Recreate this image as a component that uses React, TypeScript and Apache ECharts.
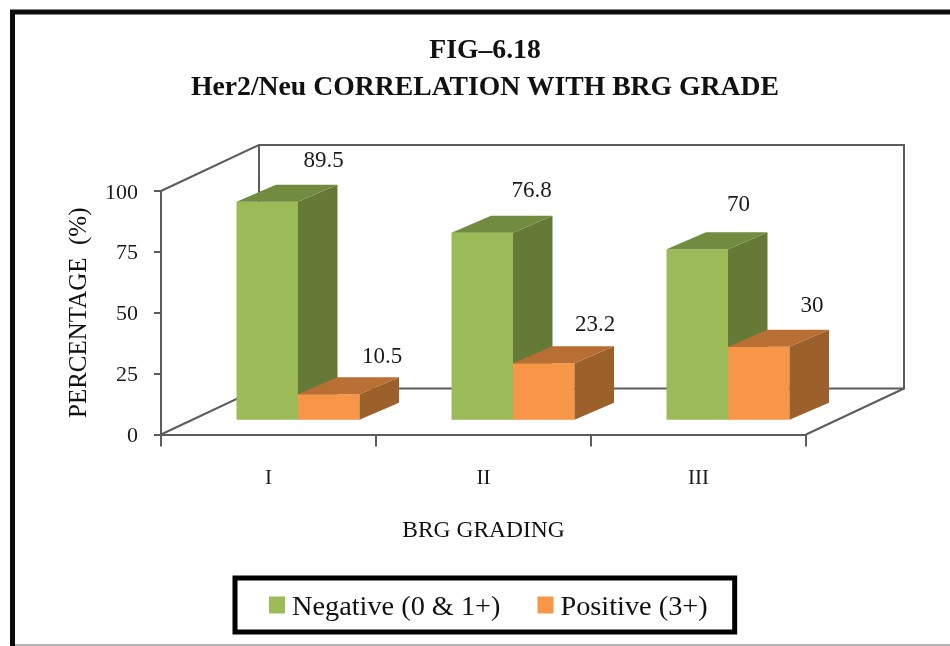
import React, { useEffect, useRef } from "react";
import * as echarts from "echarts";

const FONT = '"Liberation Serif", serif';

const categories = ["I", "II", "III"];
const negativeValues = [89.5, 76.8, 70];
const positiveValues = [10.5, 23.2, 30];
const yTicks = { min: 0, max: 100, interval: 25 };
const titleLines = ["FIG–6.18", "Her2/Neu CORRELATION WITH BRG GRADE"];
const yAxisTitle = "PERCENTAGE  (%)";
const xAxisTitle = "BRG GRADING";
const negativeName = "Negative (0 & 1+)";
const positiveName = "Positive (3+)";

const GREEN = { front: "#9BBB59", side: "#667A37", top: "#718C41" };
const ORANGE = { front: "#F79646", side: "#9C602B", top: "#B96F33" };
const AXIS = "#5c5c5c";

// 3D look
const WALL_DX = 98;
const WALL_DY = -46;
const BASE_DX = 29.5;
const BASE_DY = -14.8;
const DEPTH_DX = 39.5;
const DEPTH_DY = -17;
const BAR_FRACTION = 0.286;
const LABEL_DX = 85;
const LABEL_DY = -24;
const negLabelNudge = [[2, -1], [-5, -2], [-13, -5]];
const posLabelNudge = [[-1, 2], [-3, 1], [-1, -1]];

function bars(colors: typeof GREEN, isLeft: boolean, nudges: number[][]) {
  return (params: any, api: any) => {
    const cat = api.value(0);
    const val = api.value(1);
    const base = api.coord([cat, 0]);
    const top = api.coord([cat, val]);
    const w = api.size([1, 0])[0] * BAR_FRACTION;
    const x0 = base[0] + BASE_DX - (isLeft ? w : 0);
    const x1 = x0 + w;
    const y0 = base[1] + BASE_DY;
    const y1 = top[1] + BASE_DY;
    const poly = (points: number[][], fill: string) => ({
      type: "polygon",
      shape: { points },
      style: { fill, stroke: null },
      silent: true,
    });
    const n = nudges[params.dataIndex];
    return {
      type: "group",
      children: [
        poly([[x0, y1], [x1, y1], [x1, y0], [x0, y0]], colors.front),
        poly([[x1, y1], [x1 + DEPTH_DX, y1 + DEPTH_DY], [x1 + DEPTH_DX, y0 + DEPTH_DY], [x1, y0]], colors.side),
        poly([[x0, y1], [x0 + DEPTH_DX, y1 + DEPTH_DY], [x1 + DEPTH_DX, y1 + DEPTH_DY], [x1, y1]], colors.top),
        {
          type: "text",
          style: {
            text: String(val),
            x: x0 + LABEL_DX + n[0],
            y: y1 + DEPTH_DY + LABEL_DY + n[1],
            textAlign: "center",
            textVerticalAlign: "middle",
            font: `23px ${FONT}`,
            fill: "#1a1a1a",
          },
        },
      ],
    };
  };
}

function frame(_params: any, api: any) {
  const o = api.coord([0, 0]);
  const t = api.coord([0, 100]);
  const band = api.size([1, 0])[0];
  const left = o[0] - band / 2;
  const right = left + band * categories.length;
  const bottom = o[1];
  const top = t[1];
  const line = (points: number[][], width = 2) => ({
    type: "polyline",
    shape: { points },
    style: { stroke: AXIS, lineWidth: width, fill: null },
    silent: true,
  });
  return {
    type: "group",
    children: [
      line([[left, top], [left + WALL_DX, top + WALL_DY], [right + WALL_DX, top + WALL_DY], [right + WALL_DX, bottom + WALL_DY], [left + WALL_DX, bottom + WALL_DY], [left, bottom]]),
      line([[left + WALL_DX, top + WALL_DY], [left + WALL_DX, bottom + WALL_DY]]),
      line([[right + WALL_DX, bottom + WALL_DY], [right, bottom]]),
    ],
  };
}

export default function App() {
  const ref = useRef<HTMLDivElement>(null);
  useEffect(() => {
    const chart = echarts.init(ref.current!, null, { renderer: "svg" });
    chart.setOption({
      animation: false,
      backgroundColor: "#ffffff",
      title: {
        text: titleLines.join("\n"),
        left: 480,
        top: 25,
        textAlign: "center",
        textStyle: { fontFamily: FONT, fontSize: 27.7, fontWeight: "bold", color: "#111", lineHeight: 37 },
      },
      grid: { left: 161, top: 191, width: 645, height: 243.5 },
      xAxis: {
        type: "category",
        data: categories,
        name: xAxisTitle,
        nameLocation: "middle",
        nameGap: 82,
        nameTextStyle: { fontFamily: FONT, fontSize: 23.5, color: "#111" },
        axisLine: { lineStyle: { color: AXIS, width: 2 } },
        axisTick: { show: true, alignWithLabel: false, length: 12, lineStyle: { color: AXIS, width: 2 } },
        axisLabel: { margin: 32, fontFamily: FONT, fontSize: 21, color: "#1a1a1a" },
      },
      yAxis: {
        type: "value",
        min: yTicks.min,
        max: yTicks.max,
        interval: yTicks.interval,
        name: yAxisTitle,
        nameLocation: "middle",
        nameRotate: 90,
        nameGap: 71,
        nameTextStyle: { fontFamily: FONT, fontSize: 25, color: "#111" },
        splitLine: { show: false },
        axisLine: { show: true, lineStyle: { color: AXIS, width: 2 } },
        axisTick: { show: true, length: 7, lineStyle: { color: AXIS, width: 2 } },
        axisLabel: { margin: 23, fontFamily: FONT, fontSize: 22, color: "#1a1a1a" },
      },
      legend: {
        left: 235,
        top: 578,
        orient: "horizontal",
        icon: "rect",
        itemWidth: 16,
        itemHeight: 17,
        itemGap: 37,
        padding: [13, 27, 13, 34],
        borderColor: "#000",
        borderWidth: 5,
        data: [negativeName, positiveName],
        textStyle: { fontFamily: FONT, fontSize: 28.3, color: "#111", padding: [0, 0, 0, 2] },
      },
      graphic: [
        {
          type: "polyline",
          shape: { points: [[12.5, 646], [12.5, 12], [950, 12]] },
          style: { stroke: "#0c0c0c", lineWidth: 5, fill: null },
          silent: true,
        },
        {
          type: "line",
          shape: { x1: 15, y1: 645, x2: 950, y2: 645 },
          style: { stroke: "#b5b5b5", lineWidth: 2 },
          silent: true,
        },
      ],
      series: [
        {
          type: "custom",
          name: "frame",
          data: [[0, 0]],
          renderItem: frame,
          clip: false,
          silent: true,
          z: 1,
        },
        {
          type: "custom",
          name: negativeName,
          data: categories.map((_, i) => [i, negativeValues[i]]),
          renderItem: bars(GREEN, true, negLabelNudge),
          itemStyle: { color: GREEN.front },
          clip: false,
          silent: true,
          z: 2,
        },
        {
          type: "custom",
          name: positiveName,
          data: categories.map((_, i) => [i, positiveValues[i]]),
          renderItem: bars(ORANGE, false, posLabelNudge),
          itemStyle: { color: ORANGE.front },
          clip: false,
          silent: true,
          z: 3,
        },
      ],
    });
    return () => chart.dispose();
  }, []);
  return (
    <div
      ref={ref}
      style={{ position: "absolute", left: 0, top: 0, width: 950, height: 646, filter: "blur(0.5px)" }}
    />
  );
}
